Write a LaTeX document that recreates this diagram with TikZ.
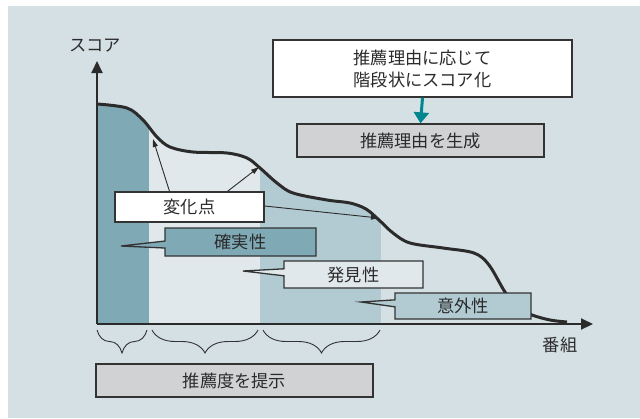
\documentclass[tikz,border=0pt]{standalone}
\usepackage{fontspec}
\newfontfamily\jp{Noto Sans CJK JP}
\usetikzlibrary{arrows.meta,shapes.callouts,decorations.pathreplacing}
\definecolor{bg}{HTML}{D5E0E4}
\definecolor{regdark}{HTML}{7FA9B5}
\definecolor{reglight}{HTML}{E1E8EB}
\definecolor{regmid}{HTML}{B2CBD2}
\definecolor{boxgrey}{HTML}{D1D2D3}
\definecolor{tealarrow}{HTML}{00868F}
\definecolor{ink}{HTML}{2B2B2B}
\definecolor{edge}{HTML}{333333}
\tikzset{
  plainbox/.style={draw=edge, line width=1.3bp, inner sep=0pt, text=ink},
  callbox/.style={rectangle callout, draw=edge, line width=1.3bp, inner sep=0pt, text=ink, callout pointer width=7bp},
  thinarrow/.style={draw=ink, line width=0.9bp, -{Triangle[length=8bp,width=5bp]}},
  bracestyle/.style={draw=edge, line width=0.9bp, decorate, decoration={brace, amplitude=23bp}},
}
\begin{document}
\begin{tikzpicture}[x=1bp, y=-1bp, font=\jp\fontsize{17.3}{22}\selectfont]
\useasboundingbox (0,0) rectangle (640,418);
\fill[white] (0,0) rectangle (640,418);
\fill[bg] (8,6) rectangle (640,418);

% regions under the curve
\begin{scope}
\clip plot[smooth, tension=0.55] coordinates {(97,104) (127,108) (143,120) (157,137) (170,147) (193,152) (227,153) (247,158) (260,168) (277,183) (293,193) (327,200) (350,203) (366,209) (379,220) (393,233) (410,243) (443,248) (474,253) (489,265) (505,292) (518,308) (532,315) (550,320) (567,322)} -- (567,324) -- (97,324) -- cycle;
\fill[regdark] (97,80) rectangle (149,324);
\fill[reglight] (149,80) rectangle (260,324);
\fill[regmid] (260,80) rectangle (381,324);
\end{scope}

% curve
\draw[line width=3bp, color=ink] plot[smooth, tension=0.55] coordinates {(97,104) (127,108) (143,120) (157,137) (170,147) (193,152) (227,153) (247,158) (260,168) (277,183) (293,193) (327,200) (350,203) (366,209) (379,220) (393,233) (410,243) (443,248) (474,253) (489,265) (505,292) (518,308) (532,315) (550,320) (567,322)};

% axes
\coordinate (O) at (97,324);
\coordinate (ytop) at (97,61);
\coordinate (xend) at (593,324);
\draw[line width=2bp, color=ink, -{Triangle[length=12bp,width=11bp]}] (O) -- (ytop);
\draw[line width=2bp, color=ink, -{Triangle[length=12bp,width=11bp]}] (O) -- (xend);
\node[text=ink] (ylab) at (95,46) {スコア};
\node[text=ink] (xlab) at (560,345) {番組};

% top boxes
\node[plainbox, fill=white, minimum width=299bp, minimum height=57bp, align=center] (top) at (422.5,68.5) {推薦理由に応じて\\階段状にスコア化};
\node[plainbox, fill=boxgrey, minimum width=247bp, minimum height=33bp] (gen) at (420.5,140.5) {推薦理由を生成};
\draw[tealarrow, line width=3bp, -{Triangle[length=11bp,width=15bp]}] (top.south) -- (gen.north);

% change points
\coordinate (c1) at (153,139);
\coordinate (c2) at (259,167);
\coordinate (c3) at (379,218);
\node[plainbox, fill=white, minimum width=149bp, minimum height=30bp] (henka) at (189.5,207) {変化点};
\draw[thinarrow] ([xshift=-20bp]henka.north) -- (c1);
\draw[thinarrow] ([xshift=38bp]henka.north) -- (c2);
\draw[thinarrow] ([yshift=1bp]henka.east) -- (c3);

% callouts
\coordinate (p1) at (121,246);
\coordinate (p2) at (243,271);
\coordinate (p3) at (361,302);
\node[callbox, fill=regdark, minimum width=151bp, minimum height=28bp, callout absolute pointer={(p1)}] (kaku) at (240.5,242) {確実性};
\node[callbox, fill=reglight, minimum width=139bp, minimum height=27bp, callout absolute pointer={(p2)}] (hakken) at (353.5,274.5) {発見性};
\node[callbox, fill=regmid, minimum width=136bp, minimum height=26bp, callout absolute pointer={(p3)}] (igai) at (463,306) {意外性};

% braces
\draw[bracestyle] (147,330) -- (97,330);
\draw[bracestyle] (258,330) -- (152,330);
\draw[bracestyle] (380,330) -- (263,330);

\node[plainbox, fill=boxgrey, minimum width=277bp, minimum height=33bp] (teiji) at (234.5,380.5) {推薦度を提示};
\end{tikzpicture}
\end{document}
